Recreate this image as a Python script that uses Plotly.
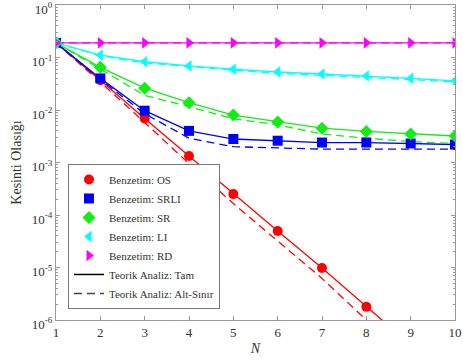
import plotly.graph_objects as go

N = [1, 2, 3, 4, 5, 6, 7, 8, 9, 10]

# Simulation (markers)
sim_os = [0.19, 0.037, 0.0069, 0.00133, 2.5e-4, 4.95e-5, 9.8e-6, 1.78e-6]
sim_srli = [0.19, 0.040, 0.0097, 0.0040, 0.0028, 0.0026, 0.0024, 0.0024, 0.0023, 0.0022]
sim_sr = [0.19, 0.065, 0.026, 0.0138, 0.0080, 0.0059, 0.0045, 0.0039, 0.0035, 0.0032]
sim_li = [0.19, 0.111, 0.083, 0.069, 0.060, 0.053, 0.0485, 0.0445, 0.040, 0.036]
sim_rd = [0.19, 0.19, 0.19, 0.19, 0.19, 0.19, 0.19, 0.19, 0.19, 0.19]

# Theory exact (solid)
tam_os = [0.19, 0.037, 0.0069, 0.00133, 2.5e-4, 4.95e-5, 9.8e-6, 1.78e-6, 3.3e-7, 6.2e-8]
tam_srli = [0.19, 0.040, 0.0097, 0.0040, 0.0028, 0.0026, 0.0024, 0.0024, 0.0023, 0.0022]
tam_sr = [0.19, 0.065, 0.026, 0.0138, 0.0080, 0.0059, 0.0045, 0.0039, 0.0035, 0.0032]
tam_li = [0.19, 0.111, 0.083, 0.069, 0.060, 0.053, 0.0485, 0.0445, 0.040, 0.036]
tam_rd = [0.19, 0.19, 0.19, 0.19, 0.19, 0.19, 0.19, 0.19, 0.19, 0.19]

# Theory lower bound (dashed)
alt_os = [0.19, 0.034, 0.0058, 0.00095, 1.65e-4, 3.2e-5, 6.2e-6, 1.0e-6, 1.9e-7, 3.6e-8]
alt_srli = [0.19, 0.038, 0.0085, 0.0029, 0.0020, 0.0019, 0.0018, 0.0018, 0.0018, 0.0018]
alt_sr = [0.19, 0.060, 0.019, 0.0116, 0.0068, 0.0052, 0.0035, 0.0029, 0.0025, 0.0023]
alt_li = [0.19, 0.108, 0.079, 0.066, 0.057, 0.050, 0.046, 0.042, 0.038, 0.034]
alt_rd = [0.19, 0.19, 0.19, 0.19, 0.19, 0.19, 0.19, 0.19, 0.19, 0.19]

names = ["OS", "SRLI", "SR", "LI", "RD"]
colors = ["#ff0000", "#0000ff", "#11ee11", "#00ffff", "#ff00ff"]
symbols = ["circle", "square", "diamond", "triangle-left", "triangle-right"]
sims = [sim_os, sim_srli, sim_sr, sim_li, sim_rd]
tams = [tam_os, tam_srli, tam_sr, tam_li, tam_rd]
alts = [alt_os, alt_srli, alt_sr, alt_li, alt_rd]

ytick_vals = [1e-6, 1e-5, 1e-4, 1e-3, 1e-2, 1e-1, 1]
ytick_text = ["10<sup>-6</sup>", "10<sup>-5</sup>", "10<sup>-4</sup>", "10<sup>-3</sup>",
              "10<sup>-2</sup>", "10<sup>-1</sup>", "10<sup>0</sup>"]

fig = go.Figure()

for name, c, s, sim, tam, alt in zip(names, colors, symbols, sims, tams, alts):
    fig.add_trace(go.Scatter(x=N, y=tam, mode="lines", line=dict(color=c, width=1.3),
                             showlegend=False, hoverinfo="skip"))
    fig.add_trace(go.Scatter(x=N, y=alt, mode="lines", line=dict(color=c, width=1.3, dash="8px,5px"),
                             showlegend=False, hoverinfo="skip"))

for i, (name, c, s, sim) in enumerate(zip(names, colors, symbols, sims)):
    fig.add_trace(go.Scatter(x=N[:len(sim)], y=sim, mode="markers",
                             marker=dict(color=c, symbol=s, size=10, line=dict(width=0)),
                             name="Benzetim: " + name, legendrank=i + 1))

fig.add_trace(go.Scatter(x=[None], y=[None], mode="lines", line=dict(color="black", width=1.5),
                         name="Teorik Analiz: Tam", legendrank=6))
fig.add_trace(go.Scatter(x=[None], y=[None], mode="lines",
                         line=dict(color="#444444", width=1.5, dash="8px,5px"),
                         name="Teorik Analiz: Alt-Sınır", legendrank=7))

axis_common = dict(showgrid=False, zeroline=False, showline=True, linecolor="#999999", linewidth=1,
                   mirror="ticks", ticks="inside", tickcolor="#999999", ticklen=4,
                   automargin=False, ticklabeloverflow="allow",
                   tickfont=dict(family="Liberation Serif", size=13, color="#333333"))

fig.update_layout(
    width=463, height=360,
    margin=dict(l=56, r=8, t=5, b=40),
    paper_bgcolor="white", plot_bgcolor="white",
    font=dict(family="Liberation Serif", color="#333333"),
    xaxis=dict(range=[1, 10], dtick=1, tick0=1,
               title=dict(text="<i>N</i>", font=dict(family="Liberation Serif", size=14), standoff=4),
               **axis_common),
    yaxis=dict(type="log", range=[-6, 0], tickmode="array", tickvals=ytick_vals, ticktext=ytick_text,
               ticklabelshift=4,
               title=dict(text="Kesinti Olasığı", font=dict(family="Liberation Serif", size=14), standoff=6),
               minor=dict(ticks="inside", ticklen=2, tickcolor="#999999", dtick="D1"),
               **axis_common),
    legend=dict(x=0.03, y=0.035, xanchor="left", yanchor="bottom",
                bgcolor="white", bordercolor="#777777", borderwidth=1,
                font=dict(family="Liberation Serif", size=11, color="#333333"),
                tracegroupgap=0, itemwidth=30),
    showlegend=True,
)

fig.write_html("out.html", config={"displayModeBar": False},
               post_script="document.body.style.margin='0';document.body.style.overflow='hidden';")
